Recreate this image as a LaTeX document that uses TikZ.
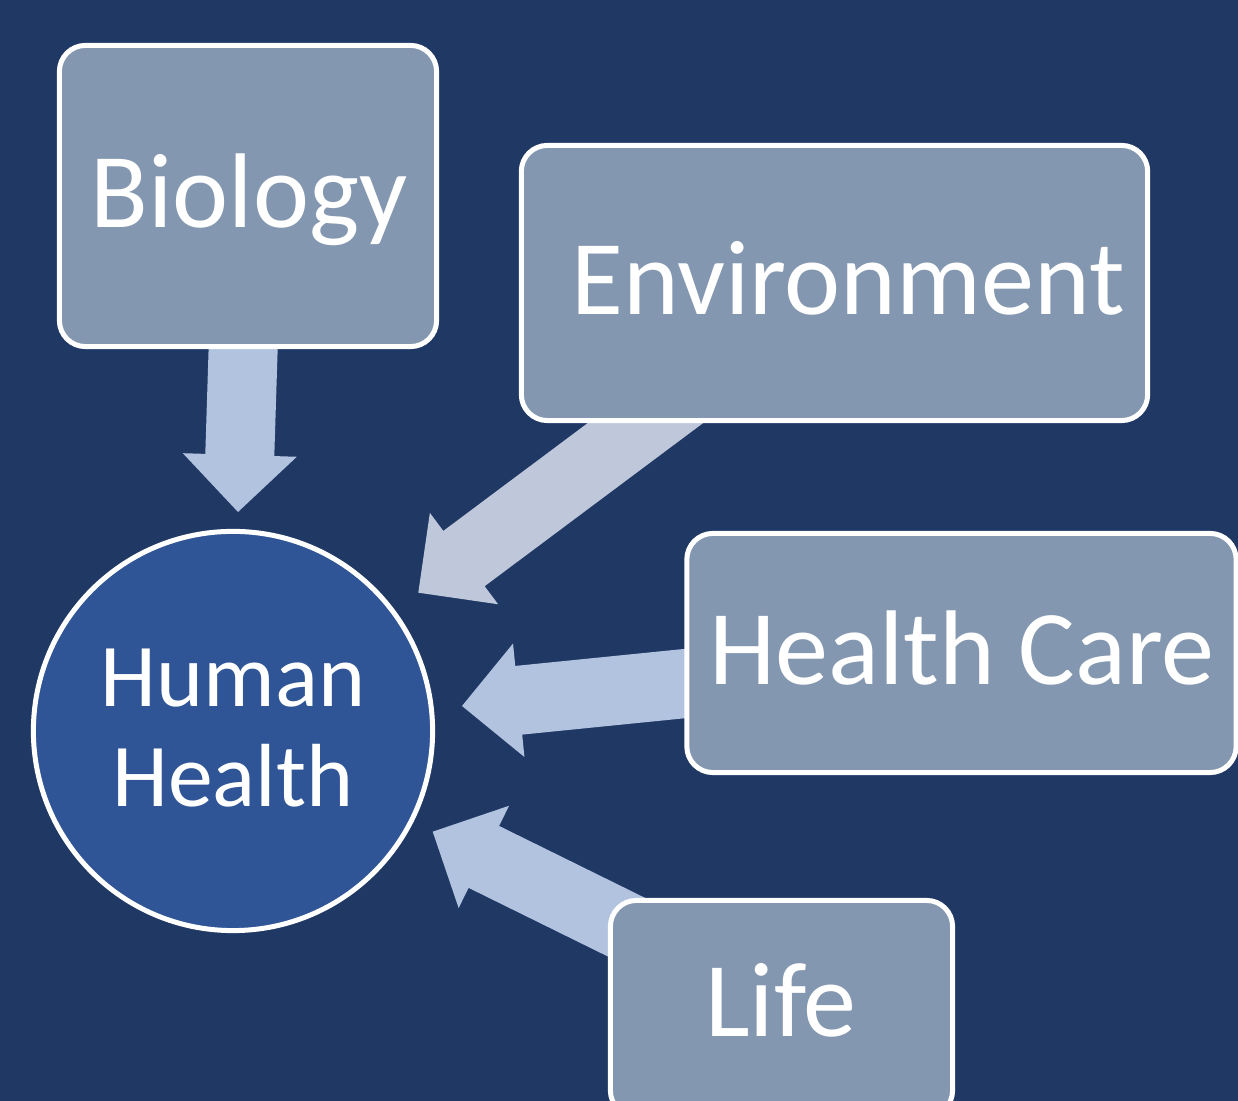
\documentclass[tikz,border=0pt]{standalone}
\usepackage{fontspec}
\setmainfont{Carlito}
\usetikzlibrary{calc}
\definecolor{bgnavy}{HTML}{203864}
\definecolor{boxfill}{HTML}{8497B0}
\definecolor{circfill}{HTML}{2F5597}
\definecolor{arrowblue}{HTML}{B1C3DF}
\definecolor{arrowgray}{HTML}{BFC8DB}
\pgfdeclarelayer{back}
\pgfdeclarelayer{arrowlayer}
\pgfsetlayers{back,arrowlayer,main}
\tikzset{
  boxnode/.style={draw=white, line width=0.05cm, fill=boxfill, rounded corners=0.26cm, inner sep=0pt},
  bigtext/.style={text=white, anchor=base, inner sep=0pt, font=\fontsize{30.2}{30.2}\selectfont},
  hhtext/.style={text=white, anchor=base, inner sep=0pt, font=\fontsize{25.5}{28.5}\selectfont},
}
% block arrow from start coordinate #2 to tip coordinate #3, filled with colour #1
\newcommand\blockarrow[3]{%
  \coordinate (ab) at ($(#3)!0.57cm!(#2)$);
  \fill[#1] ($(#2)!0.345cm!90:(#3)$) -- ($(ab)!0.345cm!90:(#3)$) -- ($(ab)!0.57cm!90:(#3)$)
    -- (#3) -- ($(ab)!0.57cm!-90:(#3)$) -- ($(ab)!0.345cm!-90:(#3)$) -- ($(#2)!0.345cm!-90:(#3)$) -- cycle;
}
\begin{document}
\begin{tikzpicture}[x=0.01cm,y=-0.01cm]
\useasboundingbox (0,0) rectangle (1238,1101);
\clip (0,0) rectangle (1238,1101);
\begin{pgfonlayer}{back}
  \fill[bgnavy] (0,0) rectangle (1238,1101);
\end{pgfonlayer}

% boxes
\node[boxnode, minimum width=3.77cm, minimum height=3.01cm] (bio) at (248,196) {};
\node[boxnode, minimum width=6.26cm, minimum height=2.75cm] (env) at (834.5,283) {};
\node[boxnode, minimum width=5.49cm, minimum height=2.39cm] (hc) at (961.5,653) {};
\node[boxnode, minimum width=3.42cm, minimum height=2.16cm] (life) at (781.5,1008.5) {};

% circle
\node[circle, draw=white, line width=0.05cm, fill=circfill, minimum size=3.99cm, inner sep=0pt] (hh) at (233,731) {};

% texts
\node[bigtext] (bioT) at (249,228) {Biology};
\node[bigtext] (envT) at (848,315) {Environment};
\node[bigtext] (hcT) at (962,685) {Health Care};
\node[bigtext] (lifeT) at (781,1037) {Life};
\node[hhtext] (hhT1) at (233,707) {Human};
\node[hhtext] (hhT2) at (233,807) {Health};

% arrow end points
\coordinate (sBio) at (245,290);
\coordinate (tBio) at (238,512);
\coordinate (sEnv) at (754,342);
\coordinate (tEnv) at (418.3,592.7);
\coordinate (sHc) at (780,674);
\coordinate (tHc) at (462,706);
\coordinate (sLife) at (764,995);
\coordinate (tLife) at (432.7,831.7);

\begin{pgfonlayer}{arrowlayer}
  \blockarrow{arrowblue}{sBio}{tBio}
  \blockarrow{arrowgray}{sEnv}{tEnv}
  \blockarrow{arrowblue}{sHc}{tHc}
  \blockarrow{arrowblue}{sLife}{tLife}
\end{pgfonlayer}
\end{tikzpicture}
\end{document}
